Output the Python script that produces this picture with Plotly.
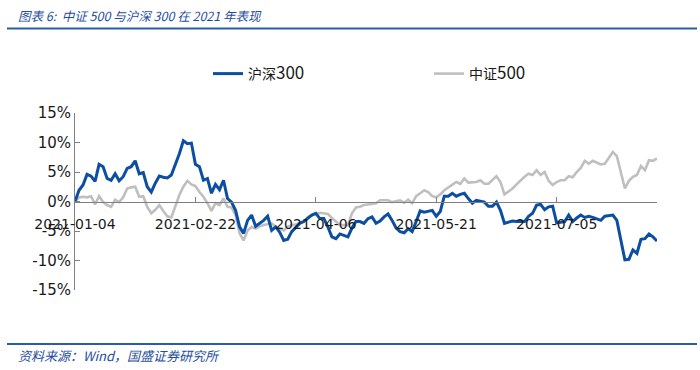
import pandas as pd
import plotly.graph_objects as go

# Trading calendar (China A-share), 2021-01-04 .. 2021-08-09
holidays = ["2021-02-11", "2021-02-12", "2021-02-15", "2021-02-16", "2021-02-17",
            "2021-04-05", "2021-05-03", "2021-05-04", "2021-05-05", "2021-06-14"]
dates = [d.strftime("%Y-%m-%d") for d in pd.bdate_range("2021-01-04", "2021-08-09")
         if d.strftime("%Y-%m-%d") not in holidays]

tick_labels = ["2021-01-04", "2021-02-22", "2021-04-06", "2021-05-21", "2021-07-05"]
y_ticks = [-15, -10, -5, 0, 5, 10, 15]

# 沪深300 cumulative return (%)
hs300 = [0, 1.9, 2.8, 4.6, 4.3, 3.4, 6.3, 5.9, 3.9, 3.6,
         4.7, 3.5, 4.2, 5.6, 5.9, 6.9, 4.7, 4.9, 2.5, 1.6,
         3.1, 4.3, 4.1, 4.0, 4.5, 6.2, 8.1, 10.3, 9.8, 9.9,
         6.3, 5.9, 3.6, 3.9, 1.4, 2.9, 2.0, 3.6, 0.5, -0.1,
         -1.5, -4.3, -5.4, -3.2, -2.3, -4.2, -3.7, -3.2, -2.5, -4.9,
         -4.3, -5.2, -6.6, -6.4, -5.1, -4.4, -3.7, -3.4, -2.8, -2.3,
         -2.0, -2.9, -2.9, -4.3, -6.0, -6.3, -5.5, -5.8, -6.0, -4.5,
         -3.4, -3.4, -3.7, -2.9, -2.6, -3.7, -3.3, -2.6, -2.1, -3.2,
         -4.5, -5.1, -5.3, -4.6, -5.1, -3.4, -1.6, -1.8, -1.7, -1.5,
         -2.5, -1.7, 0.9, 0.9, 1.4, 0.9, 1.2, 1.4, 0.5, -0.3,
         0.2, 0.1, -0.1, -0.8, -0.8, -0.1, -1.5, -3.7, -3.5, -3.3,
         -3.4, -3.4, -3.4, -2.5, -2.0, -0.6, -0.5, -1.4, -0.9, -0.8,
         -3.6, -3.5, -3.4, -2.3, -3.4, -2.8, -2.3, -2.7, -2.5, -2.7,
         -2.9, -3.2, -2.5, -2.4, -2.3, -3.2, -6.5, -9.9, -9.8, -8.2,
         -8.8, -6.4, -6.3, -5.5, -6.0, -6.7]

# 中证500 cumulative return (%)
zz500 = [0, 0.7, 0.8, 0.7, 0.9, -0.5, 0.9, -0.1, -0.6, -0.9,
         0.3, -0.1, 0.7, 2.2, 2.4, 2.5, 0.8, 0.9, -0.9, -2.0,
         -1.4, -0.6, -1.6, -2.5, -2.7, -0.6, 1.1, 2.5, 3.5, 2.9,
         2.6, 1.6, 0.8, -0.3, -1.6, -0.3, -0.6, 0.5, -0.9, -1.0,
         -2.3, -5.4, -6.6, -4.9, -4.3, -4.6, -4.2, -4.0, -3.9, -3.7,
         -4.3, -4.6, -4.9, -4.3, -4.0, -3.9, -3.7, -3.4, -2.6, -2.3,
         -2.1, -1.9, -2.0, -2.1, -2.8, -3.4, -4.0, -4.0, -4.0, -2.0,
         -1.0, -0.9, -0.6, -0.5, -0.4, -0.3, 0.2, 0.2, 0.2, -0.1,
         0.1, 0.2, -0.2, 0.3, -0.3, 0.9, 1.4, 1.9, 1.6, 0.9,
         0.7, 1.2, 1.9, 2.4, 2.8, 3.3, 3.0, 3.9, 3.2, 3.3,
         3.3, 3.6, 3.0, 3.0, 3.6, 4.3, 3.3, 1.2, 1.7, 2.2,
         2.9, 3.6, 4.2, 4.7, 4.5, 5.3, 4.5, 5.0, 3.5, 2.8,
         3.3, 3.6, 3.6, 4.3, 4.1, 5.0, 5.7, 6.9, 6.4, 6.9,
         6.6, 6.3, 6.4, 7.5, 8.4, 7.7, 5.0, 2.2, 3.5, 4.2,
         4.5, 6.0, 5.3, 7.0, 6.9, 7.3]

n = min(len(dates), len(hs300), len(zz500))
dates = dates[:n]

BLUE = "#0B4EA2"
GRAY = "#BFBFBF"
TXT_BLUE = "#1F4E9E"

fig = go.Figure()
fig.add_trace(go.Scatter(x=dates, y=zz500[:n], mode="lines", name="中证<span style='font-size:17px'>500</span>",
                         line=dict(color=GRAY, width=2.6), legendrank=2))
fig.add_trace(go.Scatter(x=dates, y=hs300[:n], mode="lines", name="沪深<span style='font-size:17px'>300</span>",
                         line=dict(color=BLUE, width=3), legendrank=1))

ML, MR, MT, MB = 75, 43, 113, 80
W, H = 700, 370
PW, PH = W - ML - MR, H - MT - MB

def px_x(px):
    return (px - ML) / PW

def px_y(py):
    return 1 - (py - MT) / PH

fig.update_layout(
    width=W, height=H,
    margin=dict(l=ML, r=MR, t=MT, b=MB),
    paper_bgcolor="white", plot_bgcolor="white",
    font=dict(family="DejaVu Sans", color="#1a1a1a"),
    showlegend=True,
    legend=dict(orientation="h", xref="container", yref="container",
                x=208 / W, y=1 - 74 / H, xanchor="left", yanchor="middle",
                entrywidth=176, entrywidthmode="pixels",
                font=dict(family="Noto Sans CJK SC", size=14, color="#1a1a1a"),
                bgcolor="rgba(0,0,0,0)"),
    xaxis=dict(type="category", range=[0, n - 1],
               tickmode="array", tickvals=tick_labels, ticktext=tick_labels,
               anchor="free", position=0.5,
               showline=True, linecolor="#808080", linewidth=1,
               ticks="inside", ticklen=5, tickcolor="#808080",
               ticklabelstandoff=10,
               showgrid=False, zeroline=False,
               tickfont=dict(family="DejaVu Sans", size=14, color="#1a1a1a")),
    yaxis=dict(range=[-15, 15], tickvals=y_ticks,
               ticktext=[f"{v}%" for v in y_ticks],
               showline=True, linecolor="#808080", linewidth=1,
               ticks="inside", ticklen=5, tickcolor="#808080",
               showgrid=False, zeroline=False,
               tickfont=dict(family="DejaVu Sans", size=15, color="#1a1a1a")),
    shapes=[
        dict(type="line", xref="paper", yref="paper",
             x0=px_x(7), x1=px_x(697), y0=px_y(28.5), y1=px_y(28.5),
             line=dict(color="#2A5CAA", width=2)),
        dict(type="line", xref="paper", yref="paper",
             x0=px_x(7), x1=px_x(697), y0=px_y(344), y1=px_y(344),
             line=dict(color="#2A5CAA", width=2)),
    ],
    annotations=[
        dict(xref="paper", yref="paper", x=px_x(16), y=px_y(15),
             xanchor="left", yanchor="middle", showarrow=False,
             text="<i>图表 6:&nbsp; 中证 500 与沪深 300 在 2021 年表现</i>",
             font=dict(family="Noto Sans CJK SC", size=12.5, color=TXT_BLUE)),
        dict(xref="paper", yref="paper", x=px_x(16), y=px_y(355),
             xanchor="left", yanchor="middle", showarrow=False,
             text="<i>资料来源：Wind，国盛证券研究所</i>",
             font=dict(family="Noto Sans CJK SC", size=13, color=TXT_BLUE)),
    ],
)

fig.write_html("out.html")
